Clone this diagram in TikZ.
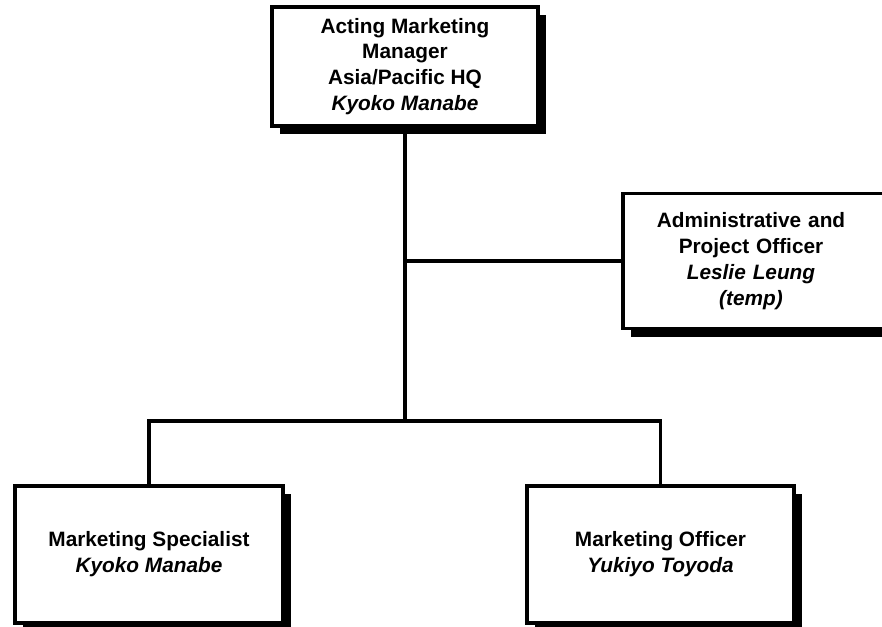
\documentclass[tikz,border=0pt]{standalone}
\usepackage{fontspec}
\setmainfont{Liberation Sans}
\usetikzlibrary{shadows}
\begin{document}
\begin{tikzpicture}[x=1pt,y=-1pt,
  box/.style={draw=black, line width=3.2pt, fill=white, rectangle, inner sep=0pt,
    align=center, font=\fontsize{20.8}{25.8}\selectfont\bfseries,
    drop shadow={shadow xshift=8pt, shadow yshift=-8pt, fill=black, opacity=1}},
  conn/.style={line width=3.2pt}]
\path[use as bounding box, clip] (0,0) rectangle (882,626);
\fill[white] (0,0) rectangle (882,626);
\node[box, minimum width=266pt, minimum height=119pt] (top) at (405,66.5)
  {Acting Marketing\\Manager\\Asia/Pacific HQ\\\textit{Kyoko Manabe}};
\node[box, minimum width=268pt, minimum height=135pt, text width=250pt] (adm) at (757,261)
  {\hspace*{-12pt}Administrative and\\\hspace*{-12pt}Project Officer\\\hspace*{-12pt}\textit{Leslie Leung}\\\hspace*{-12pt}\textit{(temp)}};
\node[box, minimum width=268pt, minimum height=137pt] (spec) at (149,554.5)
  {Marketing Specialist\\\textit{Kyoko Manabe}};
\node[box, minimum width=267pt, minimum height=137pt] (off) at (660.5,554.5)
  {Marketing Officer\\\textit{Yukiyo Toyoda}};
\coordinate (j) at (405,421);
\draw[conn] (top.south) -- (j);
\draw[conn] (top.south |- adm.west) -- (adm.west);
\draw[conn] (spec.north) -- (spec.north |- j) -- (off.north |- j) -- (off.north);
\end{tikzpicture}
\end{document}
